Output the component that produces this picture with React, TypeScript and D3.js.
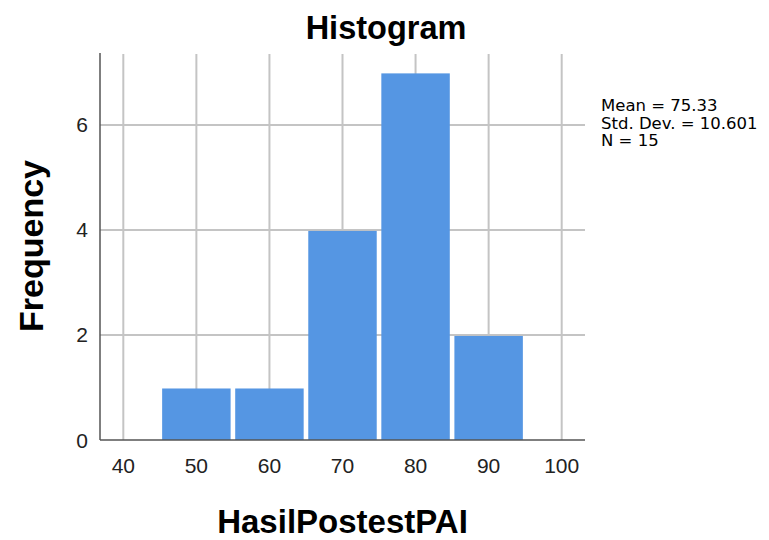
import React from "react";
import * as d3 from "d3";

const binStarts = [45, 55, 65, 75, 85];
const binWidth = 10;
const counts = [1, 1, 4, 7, 2];
const xTicks = [40, 50, 60, 70, 80, 90, 100];
const yTicks = [0, 2, 4, 6];
const statsLines = ["Mean = 75.33", "Std. Dev. = 10.601", "N = 15"];
const title = "Histogram";
const xLabel = "HasilPostestPAI";
const yLabel = "Frequency";

const W = 769;
const H = 540;
const plot = { left: 100, right: 585, top: 54, bottom: 440 };

export default function App() {
  const x = d3.scaleLinear().domain([36.81, 103.19]).range([plot.left, plot.right]);
  const y = d3.scaleLinear().domain([0, 7.35]).range([plot.bottom, plot.top]);
  const font = "'Liberation Sans', Arial, sans-serif";
  const gridColor = "#c4c4c4";
  const axisColor = "#555555";
  const barColor = "#5596e3";

  return (
    <svg
      width={W}
      height={H}
      style={{ position: "absolute", left: 0, top: 0, background: "#fff" }}
      fontFamily={font}
    >
      <rect x={0} y={0} width={W} height={H} fill="#fff" />
      {/* gridlines */}
      {xTicks.map((t) => (
        <line key={"gx" + t} x1={x(t)} x2={x(t)} y1={plot.top} y2={plot.bottom} stroke={gridColor} strokeWidth={2} />
      ))}
      {yTicks.filter((t) => t > 0).map((t) => (
        <line key={"gy" + t} x1={plot.left} x2={plot.right} y1={y(t)} y2={y(t)} stroke={gridColor} strokeWidth={2} />
      ))}
      {/* bars */}
      {counts.map((c, i) => {
        const x0 = x(binStarts[i]) + 2.3;
        const x1 = x(binStarts[i] + binWidth) - 2.3;
        const top = y(c) + 1;
        return (
          <rect key={"b" + i} x={x0} y={top} width={x1 - x0} height={plot.bottom - top} fill={barColor} />
        );
      })}
      {/* axes */}
      <line x1={plot.left} x2={plot.left} y1={plot.top - 1} y2={plot.bottom} stroke={axisColor} strokeWidth={1.5} />
      <line x1={plot.left} x2={plot.right} y1={plot.bottom} y2={plot.bottom} stroke={axisColor} strokeWidth={1.5} />
      {/* tick labels */}
      {xTicks.map((t) => (
        <text key={"tx" + t} x={x(t)} y={473} textAnchor="middle" fontSize={21} fill="#222">
          {t}
        </text>
      ))}
      {yTicks.map((t) => (
        <text key={"ty" + t} x={88} y={y(t) + 7.5} textAnchor="end" fontSize={21} fill="#222">
          {t}
        </text>
      ))}
      {/* titles */}
      <text x={386} y={39} textAnchor="middle" fontSize={32.5} fontWeight="bold" fill="#000">
        {title}
      </text>
      <text
        transform={`translate(43,246) rotate(-90)`}
        textAnchor="middle"
        fontSize={34}
        fontWeight="bold"
        fill="#000"
      >
        {yLabel}
      </text>
      <text x={342.5} y={533} textAnchor="middle" fontSize={33} fontWeight="bold" fill="#000">
        {xLabel}
      </text>
      {/* stats */}
      <text x={601} y={111} fontSize={16.5} fontFamily="'DejaVu Sans', sans-serif" fill="#000">
        {statsLines.map((s, i) => (
          <tspan key={"s" + i} x={601} dy={i === 0 ? 0 : 17.5}>
            {s}
          </tspan>
        ))}
      </text>
    </svg>
  );
}
